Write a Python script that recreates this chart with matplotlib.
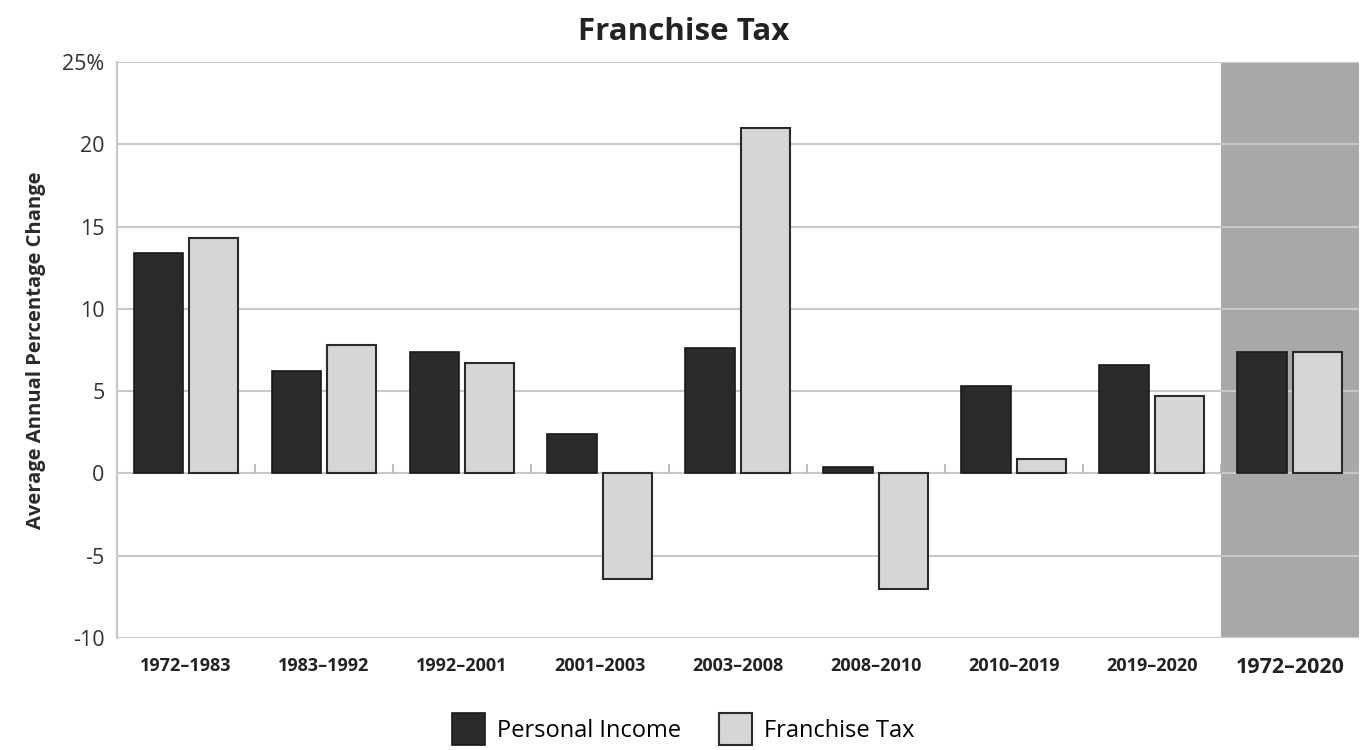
import matplotlib.pyplot as plt
import numpy as np

plt.rcParams['font.family'] = ['Open Sans', 'DejaVu Sans']

# Données
periodes = ['1972–1983', '1983–1992', '1992–2001', '2001–2003', '2003–2008',
            '2008–2010', '2010–2019', '2019–2020', '1972–2020']
revenu_personnel = [13.4, 6.2, 7.4, 2.4, 7.6, 0.4, 5.3, 6.6, 7.4]
taxe_franchise = [14.3, 7.8, 6.7, -6.4, 21.0, -7.0, 0.9, 4.7, 7.4]
graduations = [-10, -5, 0, 5, 10, 15, 20, 25]
etiquettes_y = ['-10', '-5', '0', '5', '10', '15', '20', '25%']

fig = plt.figure(figsize=(13.67, 7.5), dpi=100)
ax = fig.add_axes([0.0856, 0.1493, 0.9084, 0.768])

x = np.arange(len(periodes))
largeur = 0.36

# zone grisée pour la période complète
ax.axvspan(len(periodes) - 1.5, len(periodes) - 0.5, color='#a8a8a8', zorder=0, lw=0)

for g in graduations:
    ax.axhline(g, color='#c8c8c8', lw=1.5, zorder=1)

# petits traits entre les périodes sur la ligne zéro
ax.vlines(x[:-1] + 0.5, 0, 0.6, color='#b0b0b0', lw=1.2, zorder=1)

ax.bar(x - 0.2, revenu_personnel, largeur, color='#2b2b2b', edgecolor='#1a1a1a',
       lw=1.2, zorder=3, label='Personal Income')
ax.bar(x + 0.2, taxe_franchise, largeur, color='#d6d6d6', edgecolor='#2a2a2a',
       lw=1.5, zorder=3, label='Franchise Tax')

ax.set_xlim(-0.5, len(periodes) - 0.5)
ax.set_ylim(-10, 25)
ax.set_yticks(graduations)
ax.set_yticklabels(etiquettes_y, fontsize=15.5, color='#333333')
ax.tick_params(axis='y', length=0, pad=9)
ax.tick_params(axis='x', length=0, pad=14)
ax.set_xticks(x)
ax.set_xticklabels(periodes, fontsize=13, fontweight='bold', color='#222222')
dernier = ax.get_xticklabels()[-1]
dernier.set_fontsize(15.5)

for cote in ['top', 'right', 'bottom']:
    ax.spines[cote].set_visible(False)
ax.spines['left'].set_color('#c8c8c8')
ax.spines['left'].set_linewidth(1.5)

ax.set_ylabel('Average Annual Percentage Change', fontsize=14.5, fontweight='bold',
              color='#2a2a2a', labelpad=12)
fig.text(0.5, 0.958, 'Franchise Tax', ha='center', va='center', fontsize=22.5,
         fontweight='bold', color='#222222')

fig.legend(loc='lower center', bbox_to_anchor=(0.5, -0.022), ncol=2, frameon=False,
           fontsize=17, handlelength=1.4, handleheight=1.7, columnspacing=1.6,
           handletextpad=0.5)

fig.savefig('out.png', dpi=100)
